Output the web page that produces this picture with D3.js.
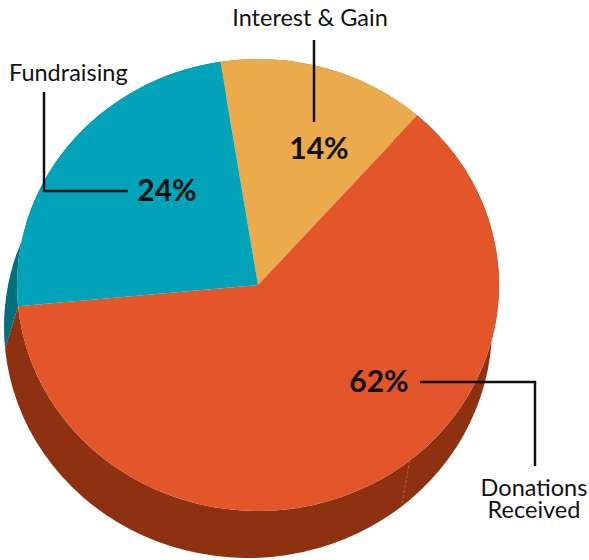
<!DOCTYPE html>
<html>
<head>
<meta charset="utf-8">
<title>Income sources</title>
<script src="https://d3js.org/d3.v7.min.js"></script>
<style>
 body { margin: 0; background: #fff; }
 .name { fill: #111; font: 400 23.5px Lato, sans-serif; }
 .pct { fill: #111; font: 700 30px Lato, sans-serif; }
 .leader { fill: none; stroke: #111; stroke-width: 2.5; }
</style>
</head>
<body>
<div id="chart"></div>
<script>
// data, in drawing order (clockwise from just left of 12 o'clock)
var categories = ["Interest & Gain", "Donations Received", "Fundraising"];
var values = [14, 62, 24];
var pctLabels = ["14%", "62%", "24%"];
var topColors = ["#ebab4d", "#e2562a", "#00a3b7"];
var sideColors = ["#a8742d", "#8e3110", "#00707d"];

var width = 589, height = 560;

// top face and base of the tilted disc
var topE = {cx: 258, cy: 285, rx: 241, ry: 226};
var botE = {cx: 248, cy: 327, rx: 244, ry: 231};
var start = -9 * Math.PI / 180;

var svg = d3.select("#chart").append("svg")
  .attr("width", width)
  .attr("height", height);

var pie = d3.pie().sort(null).startAngle(start).endAngle(start + 2 * Math.PI);
var arcs = pie(values);

function pt(e, a, r) {
  r = r == null ? 1 : r;
  return [e.cx + e.rx * r * Math.sin(a), e.cy - e.ry * r * Math.cos(a)];
}

function topPath(d) {
  var p0 = pt(topE, d.startAngle), p1 = pt(topE, d.endAngle);
  var large = d.endAngle - d.startAngle > Math.PI ? 1 : 0;
  return "M" + topE.cx + "," + topE.cy + "L" + p0 + "A" + topE.rx + "," + topE.ry +
    " 0 " + large + " 1 " + p1 + "Z";
}

function sidePath(d) {
  var t0 = pt(topE, d.startAngle), t1 = pt(topE, d.endAngle);
  var b0 = pt(botE, d.startAngle), b1 = pt(botE, d.endAngle);
  var large = d.endAngle - d.startAngle > Math.PI ? 1 : 0;
  return "M" + t0 + "A" + topE.rx + "," + topE.ry + " 0 " + large + " 1 " + t1 +
    "L" + b1 + "A" + botE.rx + "," + botE.ry + " 0 " + large + " 0 " + b0 + "Z";
}

// sides: back ones first
var order = [0, 2, 1];
svg.append("g").selectAll("path")
  .data(order.map(function(i) { return arcs[i]; }))
  .join("path")
  .attr("d", sidePath)
  .attr("fill", function(d) { return sideColors[d.index]; });

// faint seam on the front of the big slice
var seamA = 141 * Math.PI / 180;
svg.append("line")
  .attr("x1", pt(topE, seamA)[0]).attr("y1", pt(topE, seamA)[1])
  .attr("x2", pt(botE, seamA)[0]).attr("y2", pt(botE, seamA)[1])
  .attr("stroke", "#b8603c").attr("stroke-width", 1)
  .attr("stroke-dasharray", "3,2");

svg.append("g").selectAll("path")
  .data(arcs)
  .join("path")
  .attr("d", topPath)
  .attr("fill", function(d) { return topColors[d.index]; });

// labels and leaders
var pctPos = [[319, 159], [379, 392], [167, 201]];
svg.selectAll("text.pct")
  .data(pctLabels)
  .join("text")
  .attr("class", "pct")
  .attr("text-anchor", "middle")
  .attr("x", function(d, i) { return pctPos[i][0]; })
  .attr("y", function(d, i) { return pctPos[i][1]; })
  .text(function(d) { return d; });

var leaders = [
  [[314, 40], [314, 122]],
  [[420, 382], [535, 382], [535, 466]],
  [[44, 92], [44, 191], [128, 191]]
];
svg.selectAll("path.leader")
  .data(leaders)
  .join("path")
  .attr("class", "leader")
  .attr("d", d3.line());

svg.append("text").attr("class", "name")
  .attr("x", 310).attr("y", 26).attr("text-anchor", "middle")
  .text(categories[0]);

svg.append("text").attr("class", "name")
  .attr("x", 9).attr("y", 81)
  .text(categories[2]);

var don = svg.append("text").attr("class", "name")
  .attr("x", 534).attr("y", 496).attr("text-anchor", "middle");
don.append("tspan").attr("x", 534).text(categories[1].split(" ")[0]);
don.append("tspan").attr("x", 534).attr("dy", 22).text(categories[1].split(" ")[1]);
</script>
</body>
</html>
